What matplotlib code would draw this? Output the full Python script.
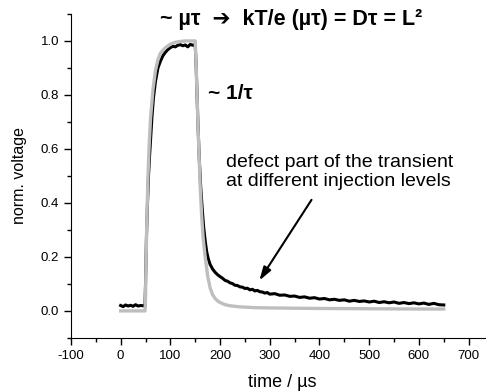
import matplotlib
matplotlib.use("Agg")
import matplotlib.pyplot as plt
from matplotlib.ticker import MultipleLocator

plt.rcParams['font.family'] = ['Liberation Sans', 'DejaVu Sans']
plt.rcParams['axes.unicode_minus'] = False

# measured transient (black, noisy) - time in us, normalized voltage
black_t = [0, 5, 10, 15, 20, 25, 30, 35, 40, 45, 49, 50, 52, 54, 56, 58, 60, 63, 66,
           70, 75, 80, 85, 90, 95, 100, 105, 110, 115, 120, 125, 130, 135, 140, 145, 150,
           152, 155, 158, 161, 164, 167, 170, 173, 176, 180, 185, 190, 195, 200,
           205, 210, 215, 220, 225, 230, 235, 240, 245, 250, 255, 260, 265, 270, 275,
           280, 285, 290, 295, 300, 310, 320, 330, 340, 350, 360, 370, 380, 390, 400,
           410, 420, 430, 440, 450, 460, 470, 480, 490, 500, 510, 520, 530, 540, 550,
           560, 570, 580, 590, 600, 610, 620, 630, 640, 650]
black_v = [0.020, 0.016, 0.022, 0.018, 0.021, 0.017, 0.023, 0.018, 0.020, 0.019, 0.020, 0.10, 0.28, 0.40, 0.50, 0.57, 0.63, 0.72, 0.79,
           0.85, 0.90, 0.925, 0.945, 0.958, 0.968, 0.975, 0.980, 0.978, 0.984, 0.986, 0.982, 0.985, 0.978, 0.987, 0.984, 0.986,
           0.90, 0.72, 0.57, 0.46, 0.38, 0.31, 0.26, 0.22, 0.195, 0.172, 0.155, 0.143, 0.134, 0.127,
           0.121, 0.113, 0.110, 0.104, 0.101, 0.095, 0.094, 0.089, 0.088, 0.083, 0.084, 0.078, 0.080, 0.074, 0.076,
           0.071, 0.070, 0.066, 0.068, 0.062, 0.064, 0.058, 0.059, 0.054, 0.055, 0.050, 0.052, 0.047, 0.049, 0.044,
           0.046, 0.041, 0.043, 0.039, 0.041, 0.036, 0.039, 0.035, 0.037, 0.033, 0.036, 0.031, 0.034, 0.030, 0.033,
           0.028, 0.031, 0.027, 0.030, 0.026, 0.029, 0.024, 0.028, 0.023, 0.022]

# reference transient (grey, smooth)
grey_t = [0, 49, 50, 51, 53, 55, 57, 60, 65, 70, 75, 80, 90, 100, 110, 120, 130, 150,
          152, 154, 156, 158, 160, 163, 166, 170, 175, 180, 185, 190, 195, 200, 210, 220,
          240, 270, 300, 400, 500, 600, 650]
grey_v = [0.0, 0.0, 0.05, 0.18, 0.36, 0.50, 0.60, 0.71, 0.82, 0.89, 0.93, 0.955, 0.975, 0.988, 0.995, 0.998, 1.0, 1.0,
          0.90, 0.78, 0.66, 0.56, 0.46, 0.35, 0.27, 0.20, 0.13, 0.085, 0.060, 0.046, 0.037, 0.031, 0.023, 0.019,
          0.015, 0.012, 0.011, 0.009, 0.008, 0.007, 0.007]

fig = plt.figure(figsize=(4.86, 3.92), dpi=100)
ax = fig.add_axes([0.146, 0.138, 0.854, 0.8265])

ax.plot(black_t, black_v, color='black', lw=2.2)
ax.plot(grey_t, grey_v, color='#bebebe', lw=2.4)

ax.set_xlim(-100, 735)
ax.set_ylim(-0.1, 1.1)
ax.xaxis.set_major_locator(MultipleLocator(100))
ax.xaxis.set_minor_locator(MultipleLocator(50))
ax.yaxis.set_major_locator(MultipleLocator(0.2))
ax.yaxis.set_minor_locator(MultipleLocator(0.1))
ax.tick_params(which='major', direction='out', length=5, width=1, labelsize=9.5)
ax.tick_params(which='minor', direction='out', length=3, width=1)
ax.spines['top'].set_visible(False)
ax.spines['right'].set_visible(False)

ax.set_xlabel('time / µs', fontsize=13, va='center')
ax.set_ylabel('norm. voltage', fontsize=11.5, va='center')
ax.xaxis.set_label_coords(0.509, -0.139)
ax.yaxis.set_label_coords(-0.123, 0.5)

ax.text(79, 1.078, '~ µτ  ➔  kT/e (µτ) = Dτ = L²', fontsize=15.5, fontweight='bold',
        ha='left', va='center')
ax.text(176, 0.807, '~ 1/τ', fontsize=15, fontweight='bold', ha='left', va='center')
ax.text(212, 0.515, 'defect part of the transient\nat different injection levels',
        fontsize=14, ha='left', va='center', linespacing=1.2)
ax.annotate('', xy=(276, 0.104), xytext=(387, 0.42),
            arrowprops=dict(arrowstyle='-|>,head_width=0.25,head_length=0.8', color='black', lw=1.5))

fig.savefig('out.png', dpi=100)
